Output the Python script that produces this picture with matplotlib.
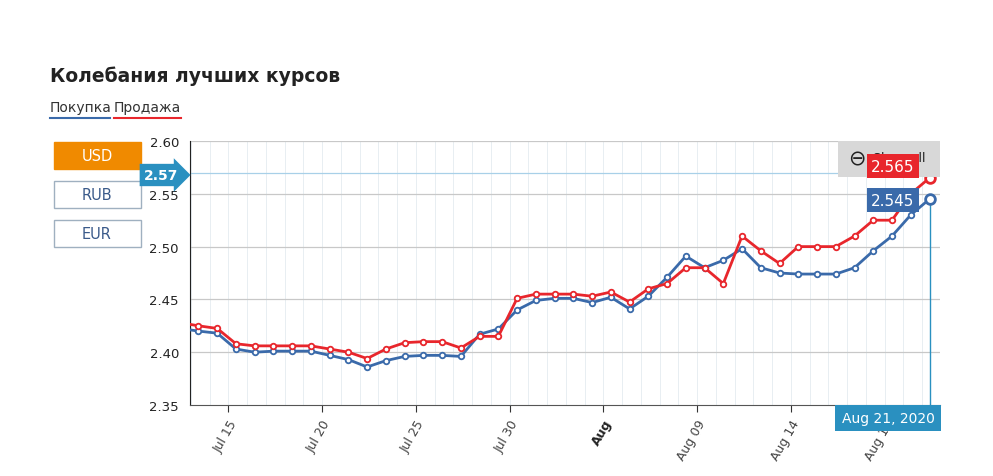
import matplotlib
matplotlib.use("Agg")
import matplotlib.pyplot as plt
from matplotlib.patches import Rectangle
import numpy as np

# day positions (Jul = day of July, Aug days continue past 31)
days = np.arange(12.4, 53.0, 1.0)
buy = [2.4225, 2.420, 2.418, 2.403, 2.400, 2.401, 2.401, 2.401, 2.397, 2.393, 2.386,
       2.392, 2.396, 2.397, 2.397, 2.396, 2.417, 2.422, 2.440, 2.449, 2.451, 2.451,
       2.447, 2.452, 2.441, 2.453, 2.471, 2.491, 2.480, 2.487, 2.498, 2.480, 2.475,
       2.474, 2.474, 2.474, 2.480, 2.496, 2.510, 2.530, 2.545]
sell = [2.428, 2.425, 2.4225, 2.408, 2.406, 2.406, 2.406, 2.406, 2.403, 2.400, 2.394,
        2.403, 2.409, 2.410, 2.410, 2.404, 2.415, 2.415, 2.451, 2.455, 2.455, 2.455,
        2.453, 2.457, 2.4475, 2.460, 2.465, 2.480, 2.480, 2.465, 2.510, 2.496, 2.484,
        2.500, 2.500, 2.500, 2.510, 2.525, 2.525, 2.550, 2.565]
tick_days = [15, 20, 25, 30, 35, 40, 45, 50]
tick_labels = ["Jul 15", "Jul 20", "Jul 25", "Jul 30", "Aug", "Aug 09", "Aug 14", "Aug 19"]
yticks = [2.35, 2.40, 2.45, 2.50, 2.55, 2.60]

W, H = 993, 477
fig = plt.figure(figsize=(W / 100, H / 100), dpi=100)
fig.patch.set_facecolor("white")
ax = fig.add_axes([190 / W, 1 - 406 / H, (940 - 190) / W, (406 - 142) / H])

BLUE = "#3a6aaa"
RED = "#e8262c"
ax.set_xlim(12.95, 52.96)
ax.set_ylim(2.35, 2.60)

for d in np.arange(13, 53):
    ax.axvline(d, color="#e8eef2", lw=0.7, zorder=0)
for y in yticks[1:]:
    ax.axhline(y, color="#c8c8c8", lw=0.9, zorder=0)
ax.axhline(2.57, color="#a8d0e8", lw=0.9, zorder=1)

ax.plot(days, buy, color=BLUE, lw=2, marker="o", ms=4, mfc="white", mec=BLUE, mew=1.3, zorder=3)
ax.plot(days, sell, color=RED, lw=2, marker="o", ms=4, mfc="white", mec=RED, mew=1.3, zorder=4)
ax.plot(days[-1], sell[-1], "o", ms=7, mfc="white", mec=RED, mew=2, zorder=6)
ax.plot(days[-1], buy[-1], "o", ms=7, mfc="white", mec=BLUE, mew=2, zorder=6)
ax.plot([days[-1], days[-1]], [2.35, buy[-1]], color="#2a90c0", lw=1, zorder=2)

ax.set_yticks(yticks)
ax.set_yticklabels([f"{v:.2f}" for v in yticks], fontsize=9.5, color="#222")
ax.set_xticks(tick_days)
ax.set_xticklabels(tick_labels, rotation=60, ha="right", rotation_mode="anchor",
                   fontsize=9, color="#444")
ax.get_xticklabels()[4].set_fontweight("bold")
ax.get_xticklabels()[4].set_color("#222")
ax.tick_params(axis="y", length=0, pad=8)
ax.tick_params(axis="x", length=5, color="#333")
for s in ["top", "right"]:
    ax.spines[s].set_visible(False)
ax.spines["left"].set_color("#222")
ax.spines["bottom"].set_color("#555")

# title and legend
fig.text(50 / W, 1 - 76 / H, "Колебания лучших курсов", fontsize=13.5, fontweight="bold",
         color="#222", va="center")
fig.text(50 / W, 1 - 108 / H, "Покупка", fontsize=10, color="#333", va="center")
fig.text(114 / W, 1 - 108 / H, "Продажа", fontsize=10, color="#333", va="center")
fig.add_artist(plt.Line2D([50 / W, 110 / W], [1 - 119 / H] * 2, color=BLUE, lw=1.5))
fig.add_artist(plt.Line2D([114 / W, 181 / W], [1 - 119 / H] * 2, color=RED, lw=1.5))

# currency buttons
for lab, y0, active in [("USD", 143, True), ("RUB", 182, False), ("EUR", 221, False)]:
    fig.add_artist(Rectangle((54 / W, 1 - (y0 + 27) / H), 87 / W, 27 / H,
                             facecolor="#f08a00" if active else "white",
                             edgecolor="#f08a00" if active else "#9fb0c0", lw=1))
    fig.text(97 / W, 1 - (y0 + 13.5) / H, lab, fontsize=10.5, ha="center", va="center",
             color="white" if active else "#3a5a8a")

# crosshair labels
fig.text(161 / W, 1 - 176 / H, "2.57", fontsize=10, fontweight="bold", color="white",
         ha="center", va="center",
         bbox=dict(boxstyle="rarrow,pad=0.3", facecolor="#2a90c0", edgecolor="none"))
fig.add_artist(Rectangle((838 / W, 1 - 178 / H), 102 / W, 36 / H, facecolor="#d8d8d8",
                         edgecolor="none", zorder=5))
fig.text(848 / W, 1 - 159 / H, "⊖", fontsize=15, color="#222", va="center", zorder=6)
fig.text(873 / W, 1 - 159 / H, "Show all", fontsize=9, color="#222", va="center", zorder=6)
fig.text(893 / W, 1 - 167 / H, "2.565", fontsize=11, color="white", ha="center", va="center",
         zorder=7, bbox=dict(boxstyle="square,pad=0.3", facecolor=RED, edgecolor="none"))
fig.text(893 / W, 1 - 201 / H, "2.545", fontsize=11, color="white", ha="center", va="center",
         zorder=7, bbox=dict(boxstyle="square,pad=0.3", facecolor=BLUE, edgecolor="none"))
fig.text(888 / W, 1 - 419 / H, "Aug 21, 2020", fontsize=10, color="white", ha="center",
         va="center", zorder=7,
         bbox=dict(boxstyle="square,pad=0.45", facecolor="#2a90c0", edgecolor="none"))

fig.savefig("out.png", dpi=100)
